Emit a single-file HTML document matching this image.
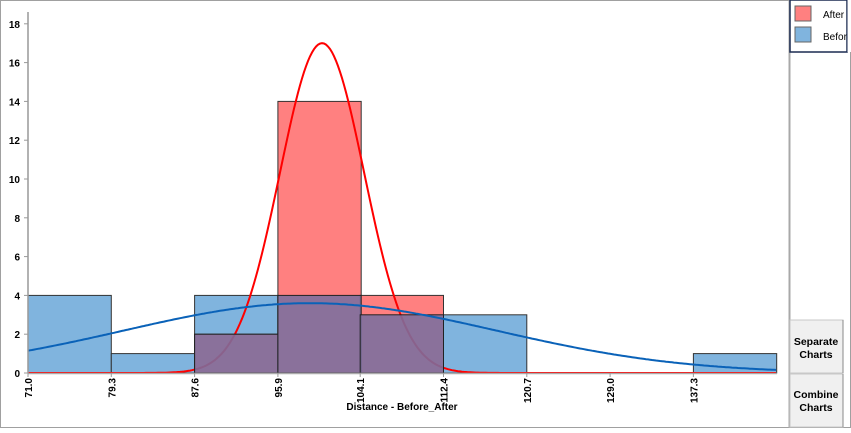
<!DOCTYPE html>
<html><head><meta charset="utf-8">
<style>
body{margin:0;background:#fff;}
svg text{font-family:"Liberation Sans",sans-serif;}
</style></head><body>
<svg id="c" width="851" height="428" viewBox="0 0 851 428">
<rect x="0.5" y="0.5" width="850" height="427" fill="#fff" stroke="#a0a0a0"/>
<g id="bars"></g><g id="curves"></g><g id="axes"></g>
<line x1="789.5" y1="0" x2="789.5" y2="428" stroke="#a8a8a8" stroke-width="2"/>
<g>
<rect x="790" y="0" width="57" height="52" fill="#fff" stroke="#1a2a50" stroke-width="1.5"/>
<g><rect x="795" y="6" width="16" height="15" fill="#ff8080" stroke="#666"/><text x="823" y="18" font-size="10">After</text></g>
<g><rect x="795" y="27" width="16" height="15" fill="#80b4de" stroke="#666"/><text x="823" y="40" font-size="10">Before</text></g>
</g>
<rect x="847.5" y="0" width="4" height="52" fill="#fff"/>
<g><rect x="790" y="320" width="53" height="53" fill="#f0f0f0" stroke="#c8c8c8"/><line x1="843" y1="320" x2="843" y2="373" stroke="#888"/><text x="816" y="345" font-size="10.5" font-weight="bold" text-anchor="middle">Separate</text><text x="816" y="358" font-size="10.5" font-weight="bold" text-anchor="middle">Charts</text></g>
<g><rect x="790" y="374" width="53" height="53" fill="#f0f0f0" stroke="#c8c8c8"/><line x1="843" y1="374" x2="843" y2="427" stroke="#888"/><text x="816" y="398" font-size="10.5" font-weight="bold" text-anchor="middle">Combine</text><text x="816" y="411" font-size="10.5" font-weight="bold" text-anchor="middle">Charts</text></g>
</svg>
<script>
const binStarts=[71.0,79.3,87.6,95.9,104.1,112.4,120.7,129.0,137.3];
const tickLabels=["71.0","79.3","87.6","95.9","104.1","112.4","120.7","129.0","137.3"];
const beforeCounts=[4,1,4,4,3,3,0,0,1];
const afterCounts=[0,0,2,14,4,0,0,0,0];
const yTicks=[0,2,4,6,8,10,12,14,16,18];
const afterFit=[100.3,4.2,17];   // mean, sd, peak
const beforeFit=[99.1,18.6,3.6];
const binW=8.3;
const X0=28,PX=83.3/8.3,Y0=373,PY=19.4;
const sx=v=>X0+(v-71.0)*PX, sy=v=>Y0-v*PY;
const NS='http://www.w3.org/2000/svg';
function mk(t,a,p){const e=document.createElementNS(NS,t);for(const k in a)e.setAttribute(k,a[k]);p.appendChild(e);return e;}
const bars=document.getElementById('bars'),curves=document.getElementById('curves'),axes=document.getElementById('axes');
binStarts.forEach((b,i)=>{const x=sx(b),w=sx(b+binW)-x;
 if(beforeCounts[i]>0){const r=mk('rect',{x:x,y:sy(beforeCounts[i]),width:w,height:beforeCounts[i]*PY,fill:'#80b4de',stroke:'#333','stroke-width':1},bars);
 }
 if(afterCounts[i]>0){const r=mk('rect',{x:x,y:sy(afterCounts[i]),width:w,height:afterCounts[i]*PY,fill:'#ff8080',stroke:'#333','stroke-width':1},bars);
 }
});
function curve(f,col,par,name){let d='';for(let px=X0;px<=777;px+=2){const v=71+(px-X0)/PX;const y=f[2]*Math.exp(-0.5*((v-f[0])/f[1])**2);d+=(d?'L':'M')+px+','+sy(y).toFixed(1);}
 const p=mk('path',{d:d,fill:'none',stroke:col,'stroke-width':2},par);}
curve(afterFit,'#ff0000',curves,'after-normal-curve');
binStarts.forEach((b,i)=>{const m=Math.min(beforeCounts[i],afterCounts[i]);if(m>0){const x=sx(b),w=sx(b+binW)-x;
 const r=mk('rect',{x:x,y:sy(m),width:w,height:m*PY,fill:'#7a6e9e','fill-opacity':0.88,stroke:'#222','stroke-width':1},curves);
 }});
curve(beforeFit,'#0a62b8',curves,'before-normal-curve');
let l=mk('line',{x1:X0,y1:12,x2:X0,y2:Y0,stroke:'#999','stroke-width':1.5},axes);
l=mk('line',{x1:X0,y1:Y0+0.5,x2:777,y2:Y0+0.5,stroke:'#aaa','stroke-width':1.5},axes);
yTicks.forEach(t=>{mk('line',{x1:X0-4,y1:sy(t),x2:X0,y2:sy(t),stroke:'#999'},axes);
 const tx=mk('text',{x:X0-8,y:sy(t)+4,'font-size':10,'font-weight':'bold','text-anchor':'end'},axes);tx.textContent=t;
 });
binStarts.forEach((b,i)=>{const x=sx(b);mk('line',{x1:x,y1:Y0,x2:x,y2:Y0+4,stroke:'#999'},axes);
 const tx=mk('text',{x:0,y:0,'font-size':10,'font-weight':'bold','text-anchor':'end',transform:`translate(${x+4},378) rotate(-90)`},axes);tx.textContent=tickLabels[i];
 });
const xt=mk('text',{x:402,y:410,'font-size':10,'font-weight':'bold','text-anchor':'middle'},axes);xt.textContent='Distance - Before_After';

</script>
</body></html>
